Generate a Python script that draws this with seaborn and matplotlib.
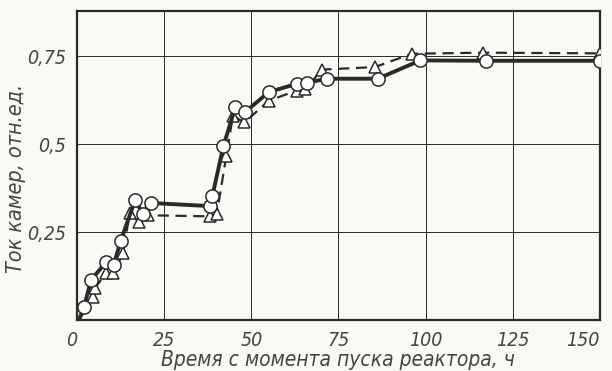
"""
Chamber current vs. time since reactor start-up (scanned chart redraw).
"""

import matplotlib
matplotlib.use('Agg')
import matplotlib.pyplot as plt
import seaborn as sns
import pandas as pd

# circles, solid line (first point is the line start at the origin)
t_circ = [0.5, 2, 4, 8.3, 10.5, 12.5, 16.6, 19, 21.2, 38.2, 38.8, 42,
          45.4, 48.3, 55, 63.2, 66, 71.8, 86.3, 98.5, 117.4, 150]
v_circ = [0.0, 0.038, 0.114, 0.165, 0.157, 0.225, 0.34, 0.302, 0.333,
          0.324, 0.352, 0.495, 0.605, 0.592, 0.648, 0.672, 0.675, 0.686,
          0.686, 0.738, 0.737, 0.737]

# triangles, dashed line
t_tri = [0.5, 4.7, 5.0, 8.3, 10.4, 13.2, 15.1, 17.8, 20.4, 38, 40.1,
         42.8, 44.7, 48, 55.1, 63, 65.4, 70.4, 85.4, 96.1, 116.5, 150]
v_tri = [0.0, 0.066, 0.09, 0.133, 0.133, 0.19, 0.305, 0.278, 0.298, 0.295,
         0.302, 0.466, 0.58, 0.562, 0.624, 0.652, 0.657, 0.712, 0.719,
         0.757, 0.76, 0.758]

x_ticks = [0, 25, 50, 75, 100, 125, 150]
y_ticks = [0.25, 0.5, 0.75]
y_tick_labels = ['0,25', '0,5', '0,75']

ink = '#2a2a2a'
text_ink = '#444444'
paper = '#faf9f3'


def main():
    sns.set_style('white')
    plt.rcParams['font.family'] = ['DejaVu Sans']
    plt.rcParams['font.stretch'] = 'condensed'

    df_c = pd.DataFrame({'t': t_circ, 'v': v_circ})
    df_t = pd.DataFrame({'t': t_tri, 'v': v_tri})

    fig = plt.figure(figsize=(6.12, 3.71), dpi=100, facecolor=paper)
    ax = fig.add_axes([0.126, 0.137, 0.854, 0.833])
    ax.set_facecolor(paper)

    sns.lineplot(ax=ax, data=df_t, x='t', y='v', estimator=None,
                 color=ink, linewidth=1.6, linestyle=(0, (5, 3)),
                 marker='^', markersize=8.5, markerfacecolor='white',
                 markeredgecolor=ink, markeredgewidth=1.1,
                 markevery=slice(1, None), zorder=3)
    sns.lineplot(ax=ax, data=df_c, x='t', y='v', estimator=None,
                 color=ink, linewidth=2.8,
                 marker='o', markersize=9.5, markerfacecolor='white',
                 markeredgecolor=ink, markeredgewidth=1.1,
                 markevery=slice(1, None), zorder=4)

    ax.set_xlim(0, 150)
    ax.set_ylim(0, 0.878)
    ax.set_xticks(x_ticks)
    ax.set_yticks(y_ticks)
    ax.set_yticklabels(y_tick_labels)
    ax.grid(True, color=ink, linewidth=0.7)
    ax.set_axisbelow(True)
    for s in ax.spines.values():
        s.set_color(ink)
        s.set_linewidth(1.6)
    ax.tick_params(length=0, labelsize=14, labelcolor=text_ink, pad=8)
    for lab in ax.get_xticklabels() + ax.get_yticklabels():
        lab.set_fontstyle('italic')
    xl = ax.get_xticklabels()
    xl[0].set_horizontalalignment('right')
    xl[-1].set_horizontalalignment('right')

    ax.set_xlabel('Время с момента пуска реактора, ч', fontsize=15,
                  fontstyle='italic', color=text_ink, labelpad=0)
    ax.set_ylabel('Ток камер, отн.ед.', fontsize=15.5,
                  fontstyle='italic', color=text_ink)
    ax.yaxis.set_label_coords(-0.097, 0.46)

    fig.savefig('out.png', dpi=100, facecolor=paper)


if __name__ == '__main__':
    main()
